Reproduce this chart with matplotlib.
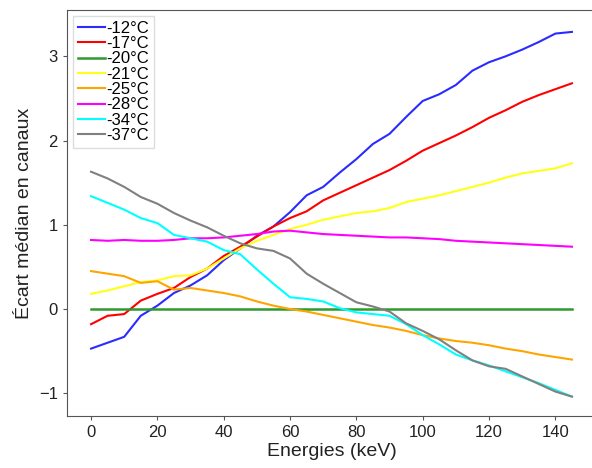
import numpy as np
import matplotlib
matplotlib.use("Agg")
import matplotlib.pyplot as plt

plt.rcParams['font.family'] = ['Liberation Sans', 'DejaVu Sans']

energies = list(range(0, 150, 5))

temperatures = ["-12°C", "-17°C", "-20°C", "-21°C", "-25°C", "-28°C", "-34°C", "-37°C"]
colors = ["#2b2bff", "red", "#2e9a2e", "#ffff1a", "orange", "magenta", "cyan", "gray"]

ecart_m12 = [-0.47, -0.40, -0.33, -0.08, 0.04, 0.19, 0.28, 0.40, 0.58, 0.72,
             0.87, 0.98, 1.15, 1.35, 1.45, 1.62, 1.78, 1.96, 2.08, 2.28,
             2.47, 2.55, 2.66, 2.83, 2.93, 3.00, 3.08, 3.17, 3.27, 3.29]
ecart_m17 = [-0.18, -0.08, -0.06, 0.10, 0.18, 0.25, 0.38, 0.48, 0.63, 0.74,
             0.86, 0.98, 1.08, 1.16, 1.29, 1.38, 1.47, 1.56, 1.65, 1.76,
             1.88, 1.97, 2.06, 2.16, 2.27, 2.36, 2.46, 2.54, 2.61, 2.68]
ecart_m20 = [0.0] * 30
ecart_m21 = [0.18, 0.22, 0.27, 0.32, 0.34, 0.39, 0.40, 0.48, 0.60, 0.72,
             0.81, 0.88, 0.95, 1.00, 1.06, 1.10, 1.14, 1.16, 1.20, 1.27,
             1.31, 1.35, 1.40, 1.45, 1.50, 1.56, 1.61, 1.64, 1.67, 1.73]
ecart_m25 = [0.45, 0.42, 0.39, 0.31, 0.33, 0.23, 0.25, 0.22, 0.19, 0.15,
             0.09, 0.04, 0.00, -0.03, -0.07, -0.11, -0.15, -0.19, -0.22, -0.26,
             -0.31, -0.35, -0.38, -0.40, -0.43, -0.47, -0.50, -0.54, -0.57, -0.60]
ecart_m28 = [0.82, 0.81, 0.82, 0.81, 0.81, 0.82, 0.84, 0.84, 0.85, 0.87,
             0.89, 0.92, 0.93, 0.91, 0.89, 0.88, 0.87, 0.86, 0.85, 0.85,
             0.84, 0.83, 0.81, 0.80, 0.79, 0.78, 0.77, 0.76, 0.75, 0.74]
ecart_m34 = [1.34, 1.26, 1.18, 1.08, 1.02, 0.88, 0.84, 0.80, 0.70, 0.65,
             0.47, 0.30, 0.14, 0.12, 0.09, 0.01, -0.04, -0.06, -0.08, -0.18,
             -0.31, -0.42, -0.54, -0.61, -0.67, -0.74, -0.81, -0.88, -0.96, -1.04]
ecart_m37 = [1.63, 1.55, 1.45, 1.33, 1.25, 1.14, 1.05, 0.97, 0.87, 0.78,
             0.72, 0.69, 0.60, 0.42, 0.30, 0.19, 0.08, 0.03, -0.03, -0.17,
             -0.26, -0.36, -0.49, -0.61, -0.68, -0.71, -0.80, -0.89, -0.98, -1.04]

series = [ecart_m12, ecart_m17, ecart_m20, ecart_m21, ecart_m25, ecart_m28, ecart_m34, ecart_m37]

fig = plt.figure(figsize=(5.92, 4.68), dpi=100)
ax = fig.add_axes([67/592, 52/468, 529/592, 406/468])

for i in range(len(series)):
    lw = 1.8 if temperatures[i] == "-20°C" else 1.5
    ax.plot(energies, series[i], color=colors[i], lw=lw, label=temperatures[i])

ax.set_xlim(-7.25, 152.25)
ax.set_ylim(-1.27, 3.55)
ax.set_xticks([0, 20, 40, 60, 80, 100, 120, 140])
ax.set_yticks([-1, 0, 1, 2, 3])
ax.tick_params(labelsize=12, length=3, color='#555555', labelcolor='#222222')
for s in ax.spines.values():
    s.set_color('#555555')

ax.set_xlabel("Energies (keV)", fontsize=14, labelpad=2, color='#222222')
ax.set_ylabel("Écart médian en canaux", fontsize=14, color='#222222')

ax.legend(loc='upper left', fontsize=12, labelspacing=0.02, handlelength=1.65,
          handletextpad=0.08, borderaxespad=0.35, borderpad=0.3, framealpha=1,
          edgecolor='#dddddd', fancybox=False)

fig.savefig("out.png", dpi=100)
